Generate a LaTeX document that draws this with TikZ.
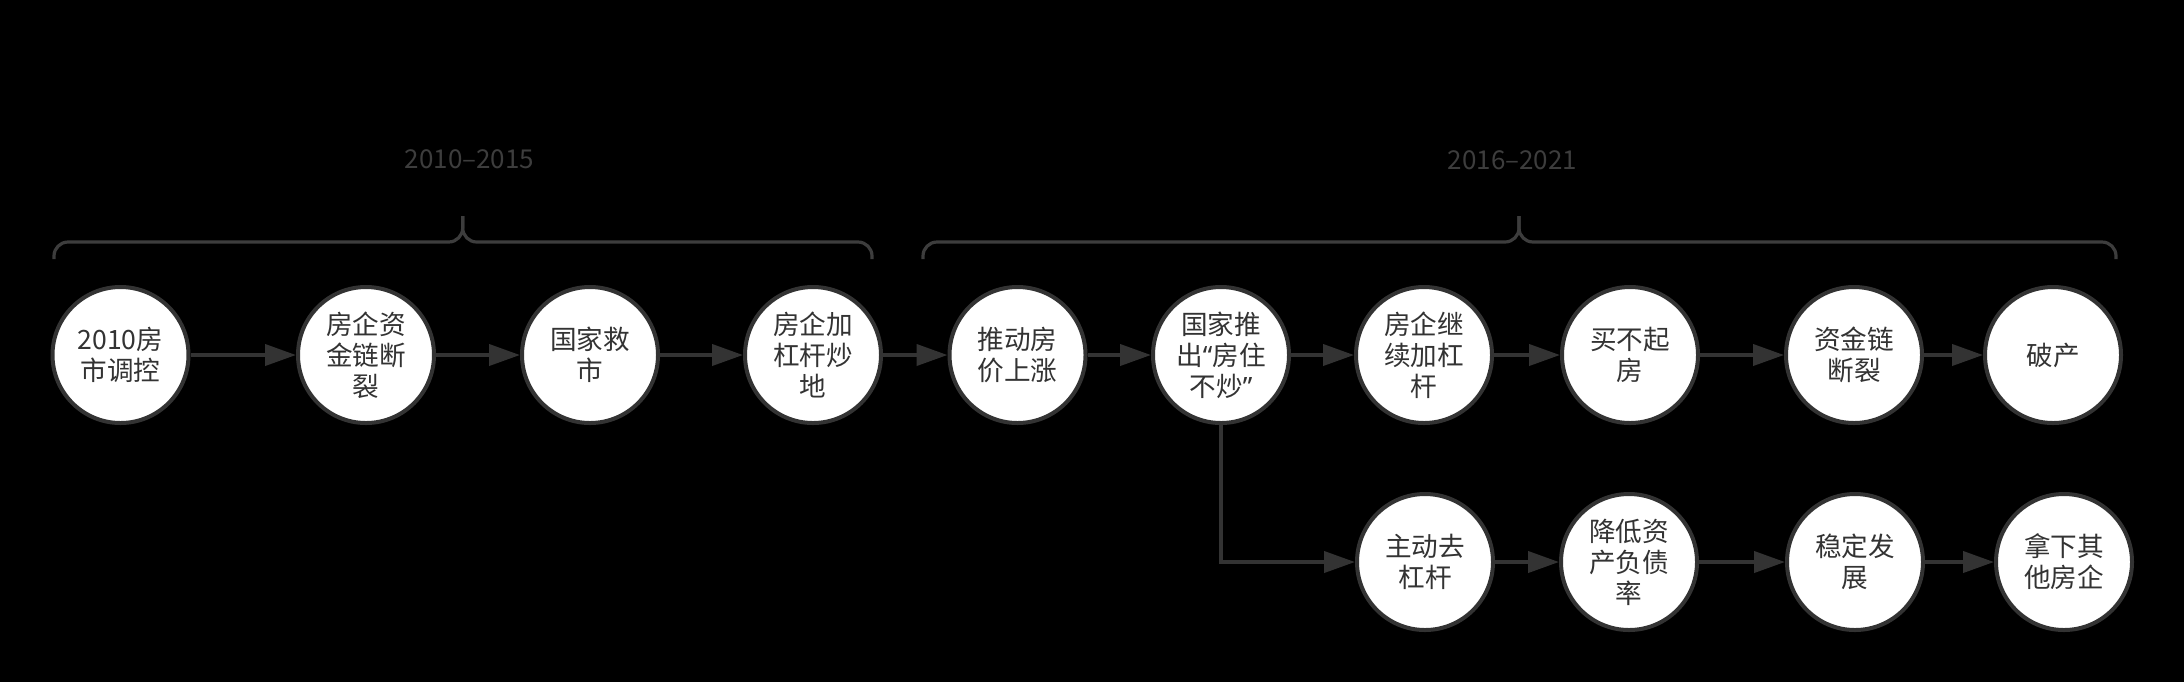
\documentclass[tikz,border=0pt]{standalone}
\usepackage{fontspec}
\setmainfont{Noto Sans CJK SC}
\newfontfamily\quotefont{Noto Sans}
\usetikzlibrary{arrows.meta}

\definecolor{LineGray}{HTML}{333333}
\definecolor{BraceGray}{HTML}{3D3D3D}
\tikzset{
  VertexStyle/.style={circle, draw=LineGray, line width=2pt, fill=white,
    minimum size=68pt, inner sep=0pt, align=center, text=LineGray,
    font=\fontsize{13.3pt}{15.5pt}\selectfont},
  EdgeStyle/.style={draw=LineGray, line width=2pt,
    -{Triangle[length=15.5pt,width=10.5pt]}},
  BraceStyle/.style={draw=BraceGray, line width=1.6pt, rounded corners=7pt},
  PeriodStyle/.style={text=BraceGray, font=\fontsize{13pt}{15pt}\selectfont}
}

\begin{document}
\begin{tikzpicture}[x=0.5pt, y=-0.5pt]
    \fill[black] (0,0) rectangle (2184,682);
    % 2010-2015
    \node[PeriodStyle] (p1) at (469.5,159) {2010–2015};
    \draw[BraceStyle] (54,259) |- (462.7,242) -- (462.7,216);
    \draw[BraceStyle] (462.7,216) -- (462.7,242) -| (872,259);
    \node[VertexStyle] (1) at (120.5,355) {2010房\\市调控};
    \node[VertexStyle] (2) at (366,355) {房企资\\金链断\\裂};
    \node[VertexStyle] (3) at (590,355) {国家救\\市};
    \node[VertexStyle] (4) at (813,355) {房企加\\杠杆炒\\地};
    % 2016-2021
    \node[PeriodStyle] (p2) at (1512.5,160) {2016–2021};
    \draw[BraceStyle] (923,259) |- (1519,242) -- (1519,216);
    \draw[BraceStyle] (1519,216) -- (1519,242) -| (2116,259);
    \node[VertexStyle] (5) at (1017.5,355) {推动房\\价上涨};
    \node[VertexStyle] (6) at (1221,355) {国家推\\出{\quotefont “}房住\\不炒{\quotefont ”}};
    \node[VertexStyle] (7) at (1424,355) {房企继\\续加杠\\杆};
    \node[VertexStyle] (8) at (1630,355) {买不起\\房};
    \node[VertexStyle] (9) at (1854,355) {资金链\\断裂};
    \node[VertexStyle] (10) at (2053,355) {破产};
    \node[VertexStyle] (11) at (1425,562) {主动去\\杠杆};
    \node[VertexStyle] (12) at (1629,562) {降低资\\产负债\\率};
    \node[VertexStyle] (13) at (1855,562) {稳定发\\展};
    \node[VertexStyle] (14) at (2064,562) {拿下其\\他房企};
    \draw[EdgeStyle] (1) -- (2);
    \draw[EdgeStyle] (2) -- (3);
    \draw[EdgeStyle] (3) -- (4);
    \draw[EdgeStyle] (4) -- (5);
    \draw[EdgeStyle] (5) -- (6);
    \draw[EdgeStyle] (6) -- (7);
    \draw[EdgeStyle] (7) -- (8);
    \draw[EdgeStyle] (8) -- (9);
    \draw[EdgeStyle] (9) -- (10);
    \draw[EdgeStyle] (6) |- (11);
    \draw[EdgeStyle] (11) -- (12);
    \draw[EdgeStyle] (12) -- (13);
    \draw[EdgeStyle] (13) -- (14);
\end{tikzpicture}
\end{document}
